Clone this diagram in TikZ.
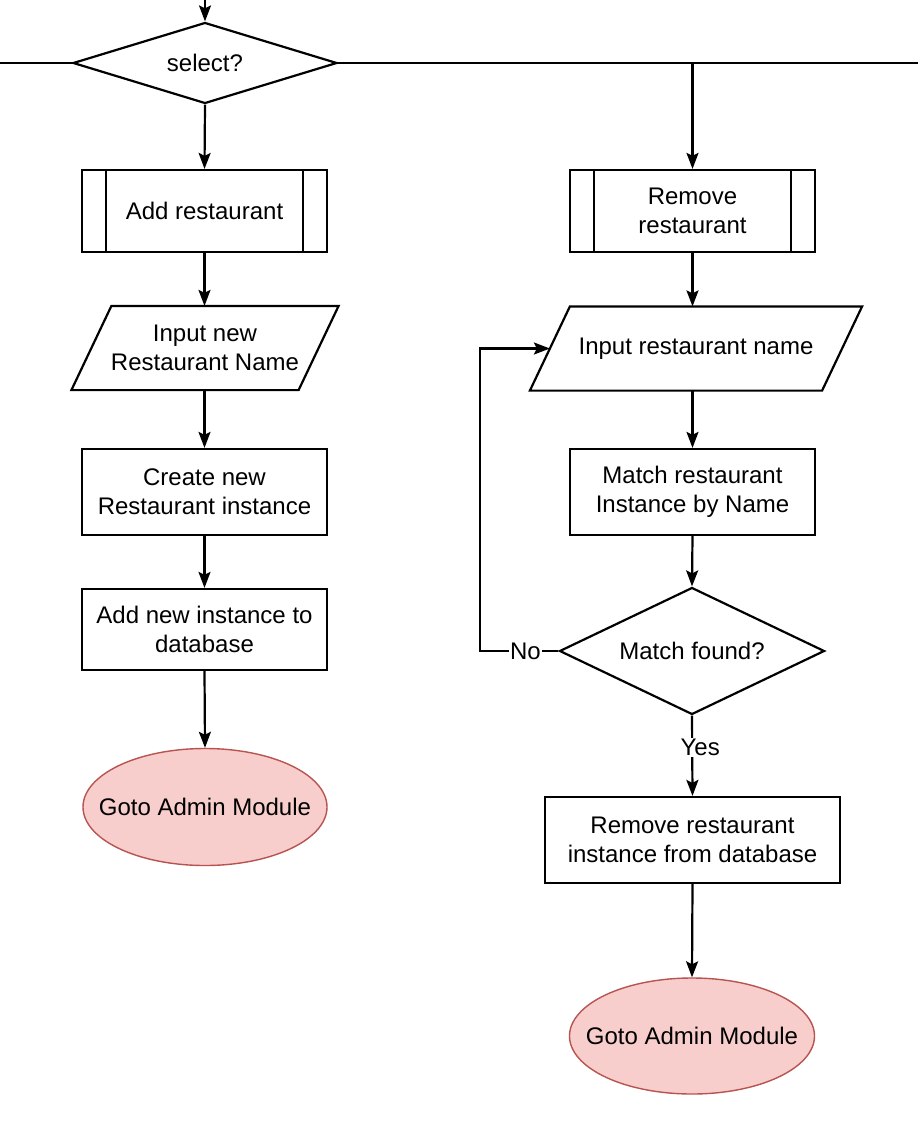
\documentclass[tikz,border=0pt]{standalone}
\usepackage{fontspec}
\setmainfont{Liberation Sans}
\usetikzlibrary{shapes.geometric,arrows.meta}
\definecolor{gotofill}{HTML}{F8CECC}
\definecolor{gotoline}{HTML}{B85450}
\begin{document}
\begin{tikzpicture}[x=1pt, y=-1pt, line width=2.2pt,
    every node/.style={font=\fontsize{24}{29}\selectfont, align=center},
    box/.style={rectangle, draw, minimum width=245, minimum height=82},
    subproc/.style={box},
    io/.style={rectangle, minimum height=82},
    decide/.style={diamond, draw, shape aspect=2, inner sep=0},
    goto/.style={ellipse, draw=gotoline, fill=gotofill, line width=1.4pt, inner sep=0,
        minimum width=244, minimum height=117},
    arrow/.style={-{Stealth[length=16pt, width=12pt, inset=3pt]}},
    lbl/.style={fill=white, inner sep=1pt}]
    \useasboundingbox[fill=white] (0,0) rectangle (918,1146);
    % Choice at the top
    \node[decide, minimum width=264, minimum height=81] (sel) at (205,63) {select?};
    \coordinate (top) at (205,0);
    \coordinate (lft) at (0,63);
    \coordinate (rgt) at (918,63);
    % Left branch: add
    \node[subproc] (add) at (204.5,211) {Add restaurant};
    \node[io, minimum width=225] (inname) at (205,348) {Input new\\Restaurant Name};
    \node[box, minimum height=86] (create) at (204.5,492) {Create new\\Restaurant instance};
    \node[box, minimum height=81] (addb) at (204.5,629.5) {Add new instance to\\database};
    \node[goto] (gotol) at (205,807) {\makebox[0pt]{Goto Admin Module}};
    % Right branch: remove
    \node[subproc] (remove) at (692.5,211) {Remove\\restaurant};
    \node[io, minimum width=290] (inrname) at (696,348.5) {Input restaurant name};
    \node[box, minimum height=86] (match) at (692.5,492) {Match restaurant\\Instance by Name};
    \node[decide, minimum width=265, minimum height=127] (found) at (692,651) {Match found?};
    \node[box, minimum width=295, minimum height=86] (delr) at (692.5,840) {Remove restaurant\\instance from database};
    \node[goto, minimum width=245, minimum height=116] (gotor) at (692,1036) {\makebox[0pt]{Goto Admin Module}};
    \coordinate (loop) at (480,651);
    % Side bars of the sub-process boxes
    \foreach \n in {add, remove} {
        \draw ([xshift=25]\n.north west) -- ([xshift=25]\n.south west);
        \draw ([xshift=-25]\n.north east) -- ([xshift=-25]\n.south east);
    }
    % Slanted outlines of the input boxes
    \foreach \n in {inname, inrname} {
        \draw[line join=miter] ([xshift=20]\n.north west) -- ([xshift=20]\n.north east)
            -- ([xshift=-20]\n.south east) -- ([xshift=-20]\n.south west) -- cycle;
    }
    % Connectors
    \draw[arrow] (top) -- (sel.north);
    \draw (sel.west) -- (lft);
    \draw (sel.east) -- (rgt);
    \draw[arrow] (remove.north |- sel.east) -- (remove.north);
    \draw[arrow] (sel.south) -- (add.north);
    \draw[arrow] (add.south) -- (add.south |- inname.north);
    \draw[arrow] (add.south |- inname.south) -- (create.north);
    \draw[arrow] (create.south) -- (addb.north);
    \draw[arrow] (addb.south) -- (gotol.north);
    \draw[arrow] (remove.south) -- (remove.south |- inrname.north);
    \draw[arrow] (match.north |- inrname.south) -- (match.north);
    \draw[arrow] (match.south) -- (found.north);
    \draw[arrow] (found.south) -- node[lbl, pos=0.4, xshift=8] {Yes} (delr.north);
    \draw[arrow] (delr.south) -- (gotor.north);
    \draw[arrow] (found.west) -- node[lbl, pos=0.42] {No} (loop) |- (inrname.west);
\end{tikzpicture}
\end{document}
